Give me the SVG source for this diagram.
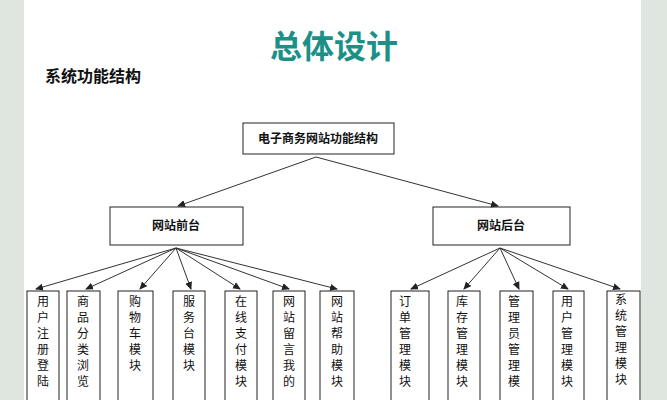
<svg xmlns="http://www.w3.org/2000/svg" width="667" height="400" viewBox="0 0 667 400">
<style>
.b{fill:#fff;stroke:#222;stroke-width:1}
.t{font-family:"Noto Sans CJK SC",sans-serif;font-size:12px;fill:#111;text-anchor:middle}
.c line{stroke:#333;stroke-width:1;marker-end:url(#a)}
</style>
<defs><marker id="a" markerWidth="8" markerHeight="8" refX="7" refY="4" orient="auto" markerUnits="userSpaceOnUse"><path d="M0,0.5L8,4L0,7.5z" fill="#222"/></marker></defs>
<rect width="667" height="400" fill="#fff"/>
<rect x="0" y="0" width="24" height="400" fill="#dfe6df"/>
<rect x="641" y="0" width="26" height="400" fill="#dfe6df"/>
<text x="334" y="58" font-family="Noto Sans CJK SC,sans-serif" font-size="32" font-weight="bold" fill="#1a9088" text-anchor="middle">总体设计</text>
<text x="45" y="82" font-family="Noto Sans CJK SC,sans-serif" font-size="16" font-weight="bold" fill="#111">系统功能结构</text>
<g id="root"><rect class="b" x="243" y="123" width="151" height="31"/><text class="t" x="318" y="143" font-weight="bold">电子商务网站功能结构</text></g>
<g id="front"><rect class="b" x="110" y="207" width="133" height="38"/><text class="t" x="176" y="230" font-weight="bold">网站前台</text></g>
<g id="back"><rect class="b" x="433" y="207" width="137" height="38"/><text class="t" x="501" y="230" font-weight="bold">网站后台</text></g>
<g class="c">
<line x1="316" y1="157" x2="178" y2="206"/><line x1="316" y1="157" x2="498" y2="206"/>
<line x1="176" y1="248" x2="36" y2="289"/><line x1="176" y1="248" x2="86" y2="289"/><line x1="176" y1="248" x2="140" y2="289"/><line x1="176" y1="248" x2="191" y2="289"/><line x1="176" y1="248" x2="240" y2="289"/><line x1="176" y1="248" x2="289" y2="289"/><line x1="176" y1="248" x2="337" y2="289"/>
<line x1="500" y1="248" x2="411" y2="289"/><line x1="500" y1="248" x2="464" y2="289"/><line x1="500" y1="248" x2="519" y2="289"/><line x1="500" y1="248" x2="568" y2="289"/><line x1="500" y1="248" x2="620" y2="289"/>
</g>
<g id="n1"><rect class="b" x="27" y="291" width="32" height="120"/><text class="t"><tspan x="43" y="306">用</tspan><tspan x="43" y="322">户</tspan><tspan x="43" y="338">注</tspan><tspan x="43" y="354">册</tspan><tspan x="43" y="370">登</tspan><tspan x="43" y="386">陆</tspan></text></g>
<g id="n2"><rect class="b" x="67" y="291" width="33" height="120"/><text class="t"><tspan x="83" y="306">商</tspan><tspan x="83" y="322">品</tspan><tspan x="83" y="338">分</tspan><tspan x="83" y="354">类</tspan><tspan x="83" y="370">浏</tspan><tspan x="83" y="386">览</tspan></text></g>
<g id="n3"><rect class="b" x="118" y="291" width="35" height="120"/><text class="t"><tspan x="135" y="306">购</tspan><tspan x="135" y="322">物</tspan><tspan x="135" y="338">车</tspan><tspan x="135" y="354">模</tspan><tspan x="135" y="370">块</tspan></text></g>
<g id="n4"><rect class="b" x="173" y="291" width="32" height="120"/><text class="t"><tspan x="189" y="306">服</tspan><tspan x="189" y="322">务</tspan><tspan x="189" y="338">台</tspan><tspan x="189" y="354">模</tspan><tspan x="189" y="370">块</tspan></text></g>
<g id="n5"><rect class="b" x="225" y="291" width="32" height="120"/><text class="t"><tspan x="241" y="306">在</tspan><tspan x="241" y="322">线</tspan><tspan x="241" y="338">支</tspan><tspan x="241" y="354">付</tspan><tspan x="241" y="370">模</tspan><tspan x="241" y="386">块</tspan></text></g>
<g id="n6"><rect class="b" x="273" y="291" width="32" height="120"/><text class="t"><tspan x="289" y="306">网</tspan><tspan x="289" y="322">站</tspan><tspan x="289" y="338">留</tspan><tspan x="289" y="354">言</tspan><tspan x="289" y="370">我</tspan><tspan x="289" y="386">的</tspan></text></g>
<g id="n7"><rect class="b" x="320" y="291" width="34" height="120"/><text class="t"><tspan x="337" y="306">网</tspan><tspan x="337" y="322">站</tspan><tspan x="337" y="338">帮</tspan><tspan x="337" y="354">助</tspan><tspan x="337" y="370">模</tspan><tspan x="337" y="386">块</tspan></text></g>
<g id="m1"><rect class="b" x="391" y="291" width="38" height="120"/><text class="t"><tspan x="405" y="306">订</tspan><tspan x="405" y="322">单</tspan><tspan x="405" y="338">管</tspan><tspan x="405" y="354">理</tspan><tspan x="405" y="370">模</tspan><tspan x="405" y="386">块</tspan></text></g>
<g id="m2"><rect class="b" x="448" y="291" width="32" height="120"/><text class="t"><tspan x="462" y="306">库</tspan><tspan x="462" y="322">存</tspan><tspan x="462" y="338">管</tspan><tspan x="462" y="354">理</tspan><tspan x="462" y="370">模</tspan><tspan x="462" y="386">块</tspan></text></g>
<g id="m3"><rect class="b" x="500" y="291" width="33" height="120"/><text class="t"><tspan x="514" y="306">管</tspan><tspan x="514" y="322">理</tspan><tspan x="514" y="338">员</tspan><tspan x="514" y="354">管</tspan><tspan x="514" y="370">理</tspan><tspan x="514" y="386">模</tspan></text></g>
<g id="m4"><rect class="b" x="553" y="291" width="31" height="120"/><text class="t"><tspan x="567" y="306">用</tspan><tspan x="567" y="322">户</tspan><tspan x="567" y="338">管</tspan><tspan x="567" y="354">理</tspan><tspan x="567" y="370">模</tspan><tspan x="567" y="386">块</tspan></text></g>
<g id="m5"><rect class="b" x="607" y="291" width="33" height="120"/><text class="t"><tspan x="621" y="304">系</tspan><tspan x="621" y="320">统</tspan><tspan x="621" y="336">管</tspan><tspan x="621" y="352">理</tspan><tspan x="621" y="368">模</tspan><tspan x="621" y="384">块</tspan></text></g>
</svg>
